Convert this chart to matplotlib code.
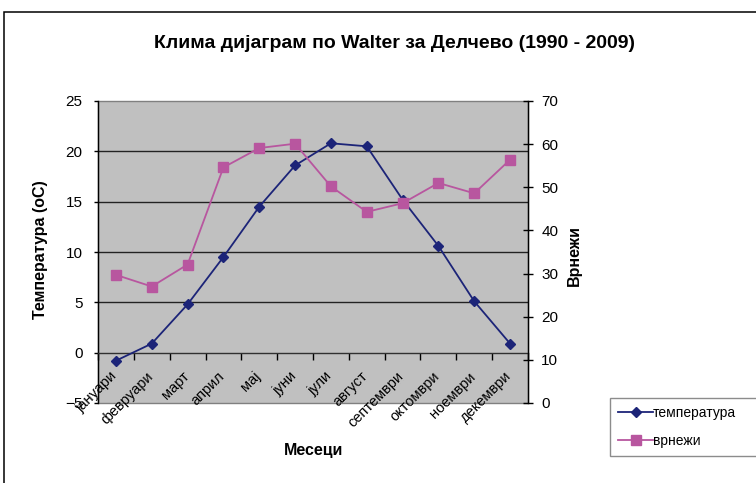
import matplotlib
matplotlib.use("Agg")
import matplotlib.pyplot as plt
import matplotlib.transforms as mtransforms
from matplotlib.patches import Rectangle
import numpy as np

plt.rcParams['font.family'] = ['Liberation Sans', 'DejaVu Sans']

months = ['јануари', 'февруари', 'март', 'април', 'мај', 'јуни', 'јули',
          'август', 'септември', 'октомври', 'ноември', 'декември']
temperature = [-0.8, 0.9, 4.8, 9.5, 14.5, 18.6, 20.8, 20.5, 15.2, 10.6, 5.1, 0.9]
precipitation = [29.7, 27.0, 32.1, 54.6, 59.1, 60.1, 50.2, 44.3, 46.3, 51.0, 48.6, 56.4]
temp_ticks = [-5, 0, 5, 10, 15, 20, 25]
rain_ticks = [0, 10, 20, 30, 40, 50, 60, 70]

W, H = 756, 483
fig = plt.figure(figsize=(W / 100, H / 100), dpi=100)

# outer chart border (only left and top edges fall inside the image)
fig.patches.append(Rectangle((4 / W, -0.1), 1.2, 1.1 - 12 / H, transform=fig.transFigure,
                             fill=False, edgecolor='black', lw=1.1))

ax1 = fig.add_axes([98 / W, 1 - 403 / H, 430 / W, 302 / H])
x = np.arange(len(months)) + 0.5

ax1.set_xlim(0, len(months))
ax1.set_ylim(temp_ticks[0], temp_ticks[-1])
ax1.set_facecolor('#c0c0c0')
ax1.patch.set_edgecolor('#808080')
ax1.patch.set_linewidth(1.0)
for t in temp_ticks[1:-1]:
    if t != 0:
        ax1.axhline(t, color='#222222', lw=1.0, zorder=0.5)

ax1.spines['bottom'].set_position(('data', 0))
ax1.spines['top'].set_visible(False)
ax1.spines['right'].set_visible(False)
ax1.spines['left'].set_linewidth(1.0)
ax1.spines['bottom'].set_linewidth(1.0)
ax1.spines['bottom'].set_color('#303030')

ax1.set_yticks(temp_ticks)
ax1.tick_params(axis='y', direction='out', length=3, width=1, pad=8, labelsize=11)

ax1.set_xticks(x)
ax1.set_xticklabels(months, rotation=45, ha='right', va='top', fontsize=10.5)
ax1.set_xticks(np.arange(len(months) + 1), minor=True)
ax1.tick_params(axis='x', which='major', length=0, pad=12)
ax1.tick_params(axis='x', which='minor', direction='out', length=5, width=1)
shift = mtransforms.ScaledTranslation(4 / 100, 0, fig.dpi_scale_trans)
for lbl in ax1.get_xticklabels():
    lbl.set_transform(lbl.get_transform() + shift)

l1, = ax1.plot(x, temperature, color='#1c2478', lw=1.3, marker='D', ms=5,
               label='температура', zorder=3)

ax2 = ax1.twinx()
ax2.set_ylim(rain_ticks[0], rain_ticks[-1])
ax2.set_yticks(rain_ticks)
for s in ['top', 'left', 'bottom']:
    ax2.spines[s].set_visible(False)
ax2.spines['right'].set_linewidth(1.0)
ax2.tick_params(axis='y', direction='inout', length=7, width=1, pad=6, labelsize=11)
l2, = ax2.plot(x, precipitation, color='#b8569f', lw=1.3, marker='s', ms=7,
               label='врнежи', zorder=3)

fig.text(395 / W, 1 - 43 / H, 'Клима дијаграм по Walter за Делчево (1990 - 2009)',
         ha='center', va='center', fontsize=14, fontweight='bold')
fig.text(41 / W, 1 - 250 / H, 'Температура (оС)', rotation=90,
         ha='center', va='center', fontsize=11.5, fontweight='bold')
fig.text(574 / W, 1 - 256 / H, 'Врнежи', rotation=90,
         ha='center', va='center', fontsize=11.5, fontweight='bold')
fig.text(314 / W, 1 - 451 / H, 'Месеци', ha='center', va='center',
         fontsize=11.5, fontweight='bold')

leg = fig.legend(handles=[l1, l2], loc='upper left', mode='expand',
                 bbox_to_anchor=(610 / W, 1 - 456 / H, 0.3, 58 / H),
                 fontsize=10, frameon=True, fancybox=False, borderaxespad=0,
                 handlelength=2.5, handletextpad=0.0, labelspacing=0.95,
                 borderpad=0.6)
leg.get_frame().set_edgecolor('#707070')
leg.get_frame().set_linewidth(1.0)

fig.savefig('out.png', dpi=100)
